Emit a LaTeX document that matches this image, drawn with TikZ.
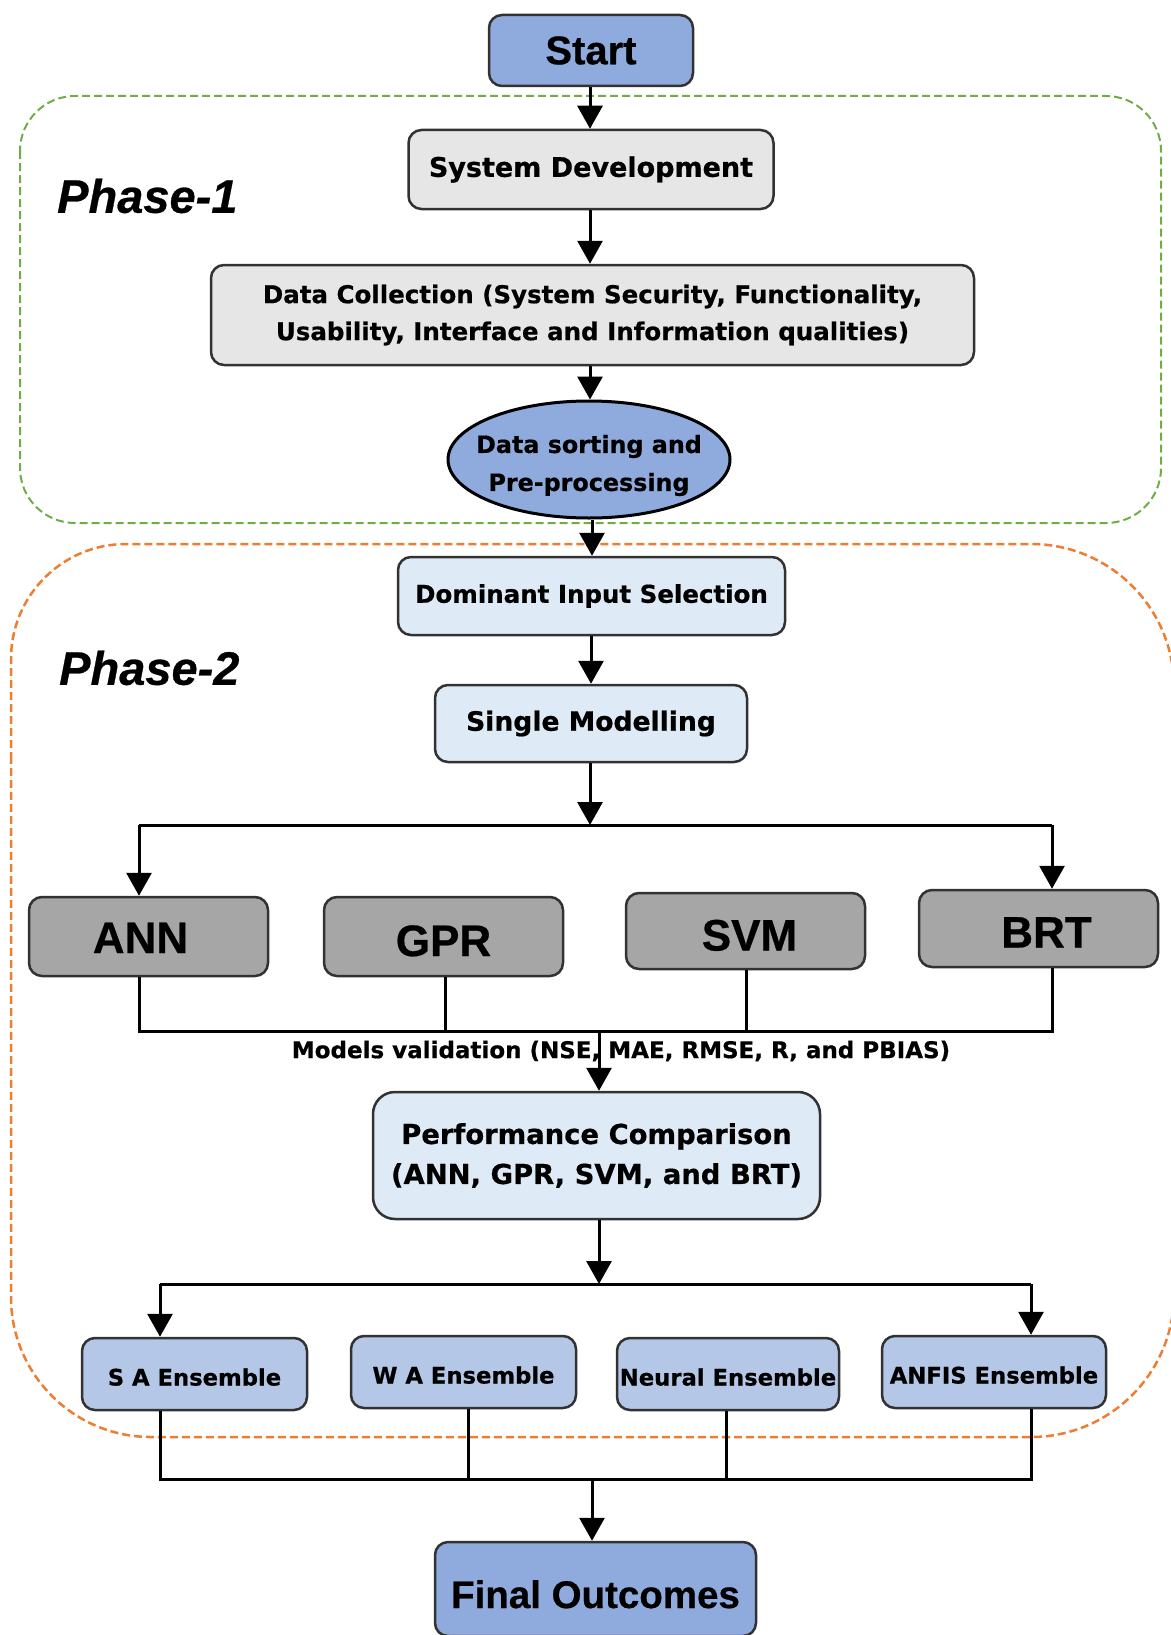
\documentclass[tikz,border=0pt]{standalone}
\usepackage{fontspec}
\setmainfont{DejaVu Sans}[BoldFeatures={FakeBold=0.6}]
\newfontfamily\arialfam{Liberation Sans}[BoldFeatures={FakeBold=0.6},
  BoldItalicFeatures={FakeBold=0.6}]
\usetikzlibrary{shapes.geometric,arrows.meta}

\definecolor{startblue}{RGB}{143,170,220}
\definecolor{greybox}{RGB}{231,230,230}
\definecolor{paleblue}{RGB}{222,235,247}
\definecolor{modelgrey}{RGB}{166,166,166}
\definecolor{ensblue}{RGB}{180,199,231}
\definecolor{phasegreen}{RGB}{112,173,71}
\definecolor{phaseorange}{RGB}{237,125,49}
\definecolor{edgegrey}{RGB}{50,50,50}

\newcommand\fsz[2]{\fontsize{#1pt}{#2pt}\selectfont}

\begin{document}
\begin{tikzpicture}[x=1pt,y=-1pt,
  box/.style={draw=edgegrey, line width=2.5pt, rounded corners=13pt,
              inner sep=0pt, align=center, text=black},
  stepgrey/.style={box, fill=greybox},
  steppale/.style={box, fill=paleblue},
  modelbox/.style={box, fill=modelgrey, minimum width=239pt,
                   font=\arialfam\bfseries\fsz{44}{50}, text depth=0pt},
  ensbox/.style={box, fill=ensblue, minimum height=72pt,
                 font=\bfseries\fsz{22.7}{27}, text height=23pt, text depth=0pt},
  terminal/.style={box, fill=startblue},
  phaselabel/.style={anchor=west, inner sep=0pt,
                     font=\arialfam\bfseries\itshape\fsz{47}{54}},
  conn/.style={line width=3pt, black},
  arr/.style={conn, -{Triangle[width=25pt,length=23pt]}},
  phaseone/.style={draw=phasegreen, line width=2pt,
                   dash pattern=on 8pt off 4pt, rounded corners=55pt},
  phasetwo/.style={draw=phaseorange, line width=2.5pt,
                   dash pattern=on 8pt off 4pt}
]
\useasboundingbox (0,0) rectangle (1170,1635);

% phase frames
\draw[phaseone] (20,96) rectangle (1161,523);
\draw[phasetwo] (11,900) [rounded corners=115pt] -- (11,544) -- (600,544)
  [rounded corners=143pt] -- (1174,544) -- (1174,1437) -- (600,1437)
  [rounded corners=140pt] -- (11,1437) -- cycle;

\node[phaselabel] (ph1) at (57,196) {Phase-1};
\node[phaselabel] (ph2) at (59,668) {Phase-2};

% main column
\node[terminal, minimum width=204pt, minimum height=71pt,
      font=\arialfam\bfseries\fsz{40}{46}] (start) at (591,50.5) {Start};
\node[stepgrey, minimum width=365pt, minimum height=79pt,
      font=\bfseries\fsz{27}{32}] (sysdev) at (591,169.5) {System Development};
\node[stepgrey, minimum width=763pt, minimum height=100pt,
      font=\bfseries\fsz{24.5}{37}] (datacol) at (592.5,315)
      {Data Collection (System Security, Functionality,\\
       Usability, Interface and Information qualities)};
\node[ellipse, draw=black, line width=3pt, fill=startblue,
      inner xsep=-14pt, inner ysep=0pt,
      minimum width=282pt, minimum height=117pt, align=center,
      font=\bfseries\fsz{23.8}{38}] (sort) at (589,459.5)
      {\rule{0pt}{30pt}Data sorting and\\Pre-processing};
\node[steppale, minimum width=387pt, minimum height=78pt,
      font=\bfseries\fsz{24.5}{30}] (dom) at (591.5,596) {Dominant Input Selection};
\node[steppale, minimum width=312pt, minimum height=77pt,
      font=\bfseries\fsz{26.6}{32}] (single) at (591,723.5) {Single Modelling};

% single models
\node[modelbox, minimum height=79pt, text height=33pt] (ann) at (148.5,936.5)
      {ANN\hspace*{16pt}};
\node[modelbox, minimum height=79pt, text height=39pt] (gpr) at (443.5,936.5)
      {GPR};
\node[modelbox, minimum height=76pt, text height=39pt] (svm) at (745.5,931)
      {\hspace*{8pt}SVM};
\node[modelbox, minimum height=77pt, text height=38pt] (brt) at (1038.5,928.5)
      {\hspace*{16pt}BRT};

\node[inner sep=0pt, font=\bfseries\fsz{23}{28}] (valid) at (621,1051)
      {Models validation (NSE, MAE, RMSE, R, and PBIAS)};

\node[steppale, rounded corners=22pt, minimum width=447pt, minimum height=127pt,
      font=\bfseries\fsz{27.4}{40}] (perf) at (596.5,1155.5)
      {Performance Comparison\\(ANN, GPR, SVM, and BRT)};

% ensembles
\node[ensbox, minimum width=225pt] (sa) at (194.5,1374) {S A Ensemble};
\node[ensbox, minimum width=225pt] (wa) at (463.5,1372) {W A Ensemble};
\node[ensbox, minimum width=222pt] (neural) at (728,1374) {Neural Ensemble};
\node[ensbox, minimum width=224pt] (anfis) at (994,1372) {ANFIS Ensemble};

\node[terminal, minimum width=321pt, minimum height=94pt,
      font=\arialfam\bfseries\fsz{38.5}{44}, text height=38pt, text depth=0pt]
      (final) at (595.5,1589) {Final Outcomes};

% junction points
\coordinate (b1) at (590,825);
\coordinate (bl) at (139,825);
\coordinate (br) at (1052,825);
\coordinate (j1) at (599,1031);
\coordinate (jl) at (139,1031);
\coordinate (jr) at (1052,1031);
\coordinate (b2) at (599,1284);
\coordinate (b2l) at (160,1284);
\coordinate (b2r) at (1031,1284);
\coordinate (j2) at (592,1479);
\coordinate (j2l) at (160,1479);
\coordinate (j2r) at (1031,1479);

% connectors, phase 1
\draw[arr] (start.south -| b1) -- (sysdev.north -| b1);
\draw[arr] (sysdev.south -| b1) -- (datacol.north -| b1);
\draw[arr] (datacol.south -| b1) -- (sort.north -| b1);
\draw[arr] (sort.south -| 592,0) -- (dom.north -| 592,0);
\draw[arr] (dom.south -| 591,0) -- (single.north -| 591,0);

% branching to the single models
\draw[arr] (single.south -| b1) -- (b1);
\draw[conn] (bl) -- (br);
\draw[arr] (bl) -- (bl |- ann.north);
\draw[arr] (br) -- (br |- brt.north);

% collecting the single models
\draw[conn] (ann.south -| jl) -- (jl) -- (jr) -- (brt.south -| jr);
\draw[conn] (gpr.south -| 445,0) -- (445,1031);
\draw[conn] (svm.south -| 746,0) -- (746,1031);
\draw[arr] (j1) -- (j1 |- perf.north);

% branching to the ensembles
\draw[arr] (perf.south -| b2) -- (b2);
\draw[conn] (b2l) -- (b2r);
\draw[arr] (b2l) -- (b2l |- sa.north);
\draw[arr] (b2r) -- (b2r |- anfis.north);

% collecting the ensembles
\draw[conn] (sa.south -| j2l) -- (j2l) -- (j2r) -- (anfis.south -| j2r);
\draw[conn] (wa.south -| 468,0) -- (468,1479);
\draw[conn] (neural.south -| 726,0) -- (726,1479);
\draw[arr] (j2) -- (j2 |- final.north);
\end{tikzpicture}
\end{document}
